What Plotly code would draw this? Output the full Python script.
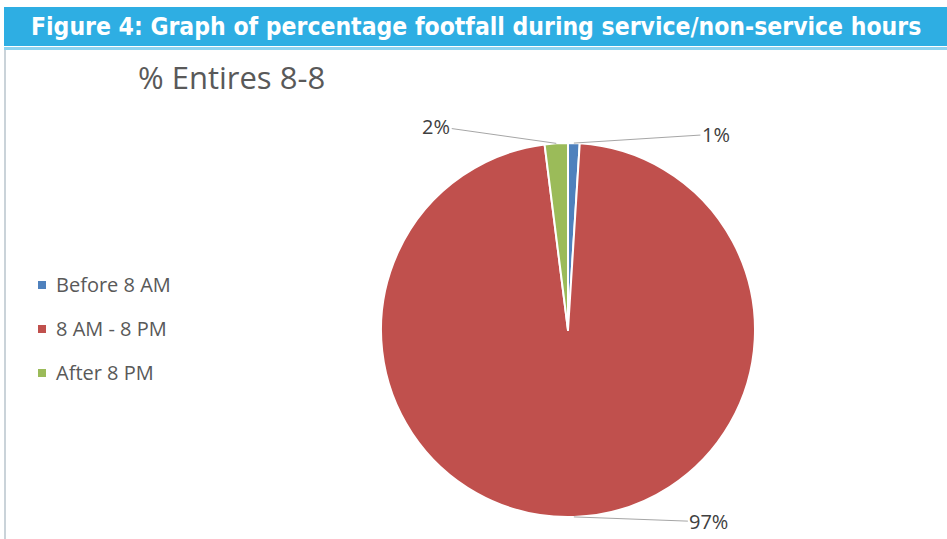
import math
import plotly.graph_objects as go

# Footfall share by time band
categories = ["Before 8 AM", "8 AM - 8 PM", "After 8 PM"]
shares = [1, 97, 2]
colors = ["#4f81bd", "#c0504d", "#9bbb59"]
chart_title = "% Entires 8-8"
banner_text = "Figure 4: Graph of percentage footfall during service/non-service hours"

W, H = 947, 539
# pie geometry (pixels from top-left)
cx_px, cy_px, r_px = 568, 330, 187

cx = cx_px / W
cy = 1 - cy_px / H
rx = r_px / W
ry = r_px / H

TEXT_FONT = "Open Sans"

fig = go.Figure()
fig.add_trace(go.Pie(
    labels=categories,
    values=shares,
    sort=False,
    direction="clockwise",
    rotation=0,
    marker=dict(colors=colors, line=dict(color="white", width=2)),
    textinfo="none",
    hoverinfo="label+percent",
    showlegend=False,
    domain=dict(x=[cx - rx, cx + rx], y=[cy - ry, cy + ry]),
))

# outside value labels with leader lines attached at each slice's mid-angle
label_offsets = [(142, -9), (135, 5), (-120, -17)]
total = sum(shares)
acc = 0
annotations = []
for val, (ox, oy) in zip(shares, label_offsets):
    mid = (acc + val / 2) / total * 2 * math.pi
    acc += val
    px = cx_px + r_px * math.sin(mid)
    py = cy_px - r_px * math.cos(mid)
    annotations.append(dict(
        x=px / W, y=1 - py / H, xref="paper", yref="paper",
        text=f"{round(val / total * 100)}%",
        showarrow=True, arrowhead=0, arrowwidth=1, arrowcolor="#a6a6a6",
        ax=ox, ay=oy, standoff=0,
        font=dict(family=TEXT_FONT, size=20, color="#404040"),
    ))

# chart title
annotations.append(dict(
    x=136 / W, y=1 - 77 / H, xref="paper", yref="paper",
    xanchor="left", yanchor="middle", showarrow=False,
    text=chart_title, font=dict(family=TEXT_FONT, size=31, color="#595959"),
))

# banner heading
annotations.append(dict(
    x=(4 + W) / 2 / W, y=1 - 27 / H, xref="paper", yref="paper",
    xanchor="center", yanchor="middle", showarrow=False,
    text=f"<b>{banner_text}</b>",
    font=dict(family="DejaVu Sans Condensed", size=24.5, color="white"),
))

# legend drawn as swatches + labels
shapes = []
leg_y = [284, 328, 372]
for name, col, ly in zip(categories, colors, leg_y):
    shapes.append(dict(type="rect", xref="paper", yref="paper",
                       x0=38 / W, x1=46 / W, y0=1 - (ly + 5) / H, y1=1 - (ly - 3) / H,
                       fillcolor=col, line=dict(width=0)))
    annotations.append(dict(
        x=54 / W, y=1 - ly / H, xref="paper", yref="paper",
        xanchor="left", yanchor="middle", showarrow=False,
        text=name, font=dict(family=TEXT_FONT, size=20, color="#595959"),
    ))

# banner band, light rule under it, and left frame line
shapes.append(dict(type="rect", xref="paper", yref="paper",
                   x0=4 / W, x1=1, y0=1 - 46 / H, y1=1 - 7 / H,
                   fillcolor="#2eaee3", line=dict(width=0), layer="below"))
shapes.append(dict(type="rect", xref="paper", yref="paper",
                   x0=4 / W, x1=1, y0=1 - 50 / H, y1=1 - 47 / H,
                   fillcolor="#8dd3f0", line=dict(width=0), layer="below"))
shapes.append(dict(type="line", xref="paper", yref="paper",
                   x0=5 / W, x1=5 / W, y0=0, y1=1 - 50 / H,
                   line=dict(color="#b8c4cc", width=1.5)))

fig.update_layout(
    width=W, height=H,
    margin=dict(l=0, r=0, t=0, b=0),
    paper_bgcolor="white", plot_bgcolor="white",
    annotations=annotations, shapes=shapes,
)

fig.write_html("out.html")
